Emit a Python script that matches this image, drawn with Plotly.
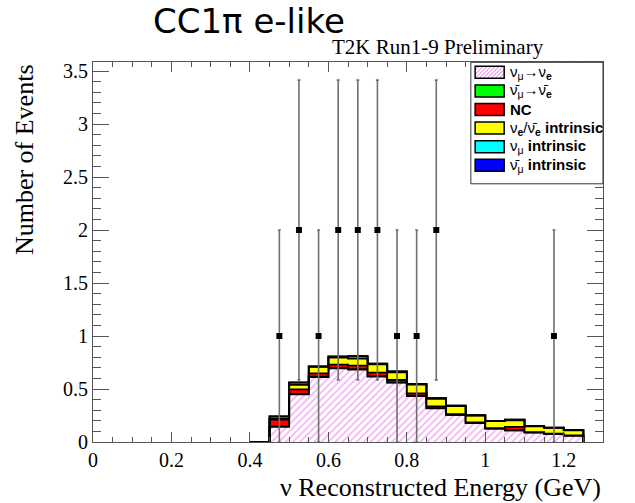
import plotly.graph_objects as go

# ---------------- data ----------------
bin_lo = [0.40, 0.45, 0.50, 0.55, 0.60, 0.65, 0.70, 0.75, 0.80,
          0.85, 0.90, 0.95, 1.00, 1.05, 1.10, 1.15, 1.20]
bin_hi_last = 1.25

sig_numu_nue = [0.0, 0.145, 0.450, 0.613, 0.695, 0.683, 0.617, 0.560, 0.434,
                0.318, 0.255, 0.179, 0.126, 0.110, 0.089, 0.076, 0.060]
sig_anumu_anue = [0.0, 0.0, 0.004, 0.004, 0.004, 0.004, 0.004, 0.003, 0.003,
                  0.002, 0.002, 0.002, 0.001, 0.001, 0.001, 0.001, 0.001]
nc = [0.0, 0.066, 0.043, 0.031, 0.031, 0.033, 0.033, 0.022, 0.022,
      0.017, 0.006, 0.004, 0.003, 0.031, 0.003, 0.002, 0.002]
nue_intrinsic = [0.0, 0.009, 0.041, 0.060, 0.066, 0.066, 0.079, 0.073, 0.082,
                 0.069, 0.075, 0.065, 0.066, 0.063, 0.055, 0.054, 0.047]
numu_intrinsic = [0.0, 0.021, 0.023, 0.005, 0.010, 0.023, 0.005, 0.007, 0.007,
                  0.007, 0.004, 0.002, 0.002, 0.005, 0.002, 0.002, 0.002]
anumu_intrinsic = [0.0, 0.001, 0.002, 0.001, 0.002, 0.002, 0.001, 0.001, 0.001,
                   0.001, 0.001, 0.001, 0.001, 0.001, 0.001, 0.001, 0.001]

data_x = [0.475, 0.525, 0.575, 0.625, 0.675, 0.725, 0.775, 0.825, 0.875, 1.175]
data_y = [1, 2, 1, 2, 2, 2, 1, 1, 2, 1]
data_err = [1.0, 1.414, 1.0, 1.414, 1.414, 1.414, 1.0, 1.0, 1.414, 1.0]

legend_labels = [
    "ν<sub>μ</sub>→ν<sub><b>e</b></sub>",
    "ν̄<sub>μ</sub>→ν̄<sub><b>e</b></sub>",
    "<b>NC</b>",
    "ν<sub><b>e</b></sub>/ν̄<sub><b>e</b></sub> <b>intrinsic</b>",
    "ν<sub>μ</sub> <b>intrinsic</b>",
    "ν̄<sub>μ</sub> <b>intrinsic</b>",
]
comp_colors = ["#ffffff", "#00ff00", "#ff0000", "#ffff00", "#00ffff", "#0000ff"]
hatch_color = "#e66ee6"

components = [sig_numu_nue, sig_anumu_anue, nc, nue_intrinsic,
              numu_intrinsic, anumu_intrinsic]

# ---------------- figure ----------------
W_FIG, H_FIG = 635, 503
L, R, T, B = 93.3, 602.7, 61.7, 441.7
PW, PH = R - L, B - T


def pxx(x):
    return (x - L) / PW


def pxy(y):
    return (B - y) / PH


fig = go.Figure()

step_x = bin_lo + [bin_hi_last]
cum = [0.0] * len(bin_lo)
for i, comp in enumerate(components):
    cum = [c + v for c, v in zip(cum, comp)]
    step_y = cum + [0.0]
    kw = {}
    if i == 0:
        kw["fill"] = "tozeroy"
        kw["fillcolor"] = "white"
        kw["fillpattern"] = dict(shape="/", fgcolor=hatch_color, bgcolor="white",
                                 size=5, solidity=0.35)
    else:
        kw["fill"] = "tonexty"
        kw["fillcolor"] = comp_colors[i]
    fig.add_trace(go.Scatter(
        x=step_x, y=step_y, mode="lines",
        line=dict(shape="hv", color="black", width=1.8),
        showlegend=False, hoverinfo="skip", **kw))

fig.add_trace(go.Scatter(
    x=data_x, y=data_y, mode="markers",
    marker=dict(symbol="square", size=6, color="black"),
    error_y=dict(type="data", array=data_err, color="#707070",
                 thickness=1.6, width=1.5),
    showlegend=False))

axis_common = dict(
    showline=True, linecolor="#555555", linewidth=1, mirror="ticks",
    ticks="inside", tickcolor="#555555", showgrid=False, zeroline=False,
    tickfont=dict(family="Liberation Serif", size=20, color="black"),
)
fig.update_xaxes(range=[0, 1.3], dtick=0.2, tick0=0, ticklen=10,
                 minor=dict(dtick=0.05, ticklen=5, ticks="inside",
                            tickcolor="#555555", showgrid=False),
                 **axis_common)
fig.update_yaxes(range=[0, 3.585], dtick=0.5, tick0=0, ticklen=16,
                 minor=dict(dtick=0.1, ticklen=8, ticks="inside",
                            tickcolor="#555555", showgrid=False),
                 **axis_common)

shapes = []
annotations = []

# axis titles
annotations.append(dict(
    text="ν Reconstructed Energy (GeV)", xref="paper", yref="paper",
    x=pxx(R), y=pxy(487), xanchor="right", yanchor="middle", showarrow=False,
    font=dict(family="Liberation Serif", size=26, color="black")))
annotations.append(dict(
    text="Number of Events", xref="paper", yref="paper", textangle=-90,
    x=pxx(25), y=pxy(T), xanchor="center", yanchor="top", showarrow=False,
    font=dict(family="Liberation Serif", size=26, color="black")))

# header texts
annotations.append(dict(
    text="CC1π e-like", xref="paper", yref="paper",
    x=pxx(249), y=pxy(21), xanchor="center", yanchor="middle", showarrow=False,
    font=dict(family="DejaVu Sans", size=34, color="black")))
annotations.append(dict(
    text="T2K Run1-9 Preliminary", xref="paper", yref="paper",
    x=pxx(330), y=pxy(47), xanchor="left", yanchor="middle", showarrow=False,
    font=dict(family="Liberation Serif", size=21, color="black")))

# legend box
LG_L, LG_R, LG_T, LG_B = 470.7, R, 62.0, 183.5
shapes.append(dict(type="rect", xref="paper", yref="paper",
                   x0=pxx(LG_L), x1=pxx(LG_R), y0=pxy(LG_B), y1=pxy(LG_T),
                   line=dict(color="#333333", width=1), fillcolor="white",
                   layer="above"))
row_c = [72.0, 90.6, 109.2, 127.8, 146.4, 165.0]
SW_L, SW_R, SW_H = 475.0, 504.0, 12.0
for i, (lab, col) in enumerate(zip(legend_labels, comp_colors)):
    c = row_c[i]
    y0, y1 = c + SW_H / 2, c - SW_H / 2
    shapes.append(dict(type="rect", xref="paper", yref="paper",
                       x0=pxx(SW_L), x1=pxx(SW_R), y0=pxy(y0), y1=pxy(y1),
                       fillcolor=col, line=dict(width=0), layer="above"))
    if i == 0:
        s = -SW_H
        while s < SW_R - SW_L:
            xa, ya = SW_L + s, y0
            xb, yb = SW_L + s + SW_H, y1
            if xa < SW_L:
                ya = y0 - (SW_L - xa)
                xa = SW_L
            if xb > SW_R:
                yb = y1 + (xb - SW_R)
                xb = SW_R
            if xb > xa:
                shapes.append(dict(type="line", xref="paper", yref="paper",
                                   x0=pxx(xa), x1=pxx(xb), y0=pxy(ya), y1=pxy(yb),
                                   line=dict(color=hatch_color, width=1),
                                   layer="above"))
            s += 4
    shapes.append(dict(type="rect", xref="paper", yref="paper",
                       x0=pxx(SW_L), x1=pxx(SW_R), y0=pxy(y0), y1=pxy(y1),
                       line=dict(color="black", width=1.5), layer="above"))
    annotations.append(dict(
        text=lab, xref="paper", yref="paper", x=pxx(508), y=pxy(c),
        xanchor="left", yanchor="middle", showarrow=False,
        font=dict(family="Liberation Sans", size=15, color="black")))

fig.update_layout(
    width=W_FIG, height=H_FIG,
    margin=dict(l=L, r=W_FIG - R, t=T, b=H_FIG - B, autoexpand=False),
    paper_bgcolor="white", plot_bgcolor="white",
    showlegend=False, shapes=shapes, annotations=annotations,
)

fig.write_html("out.html")
